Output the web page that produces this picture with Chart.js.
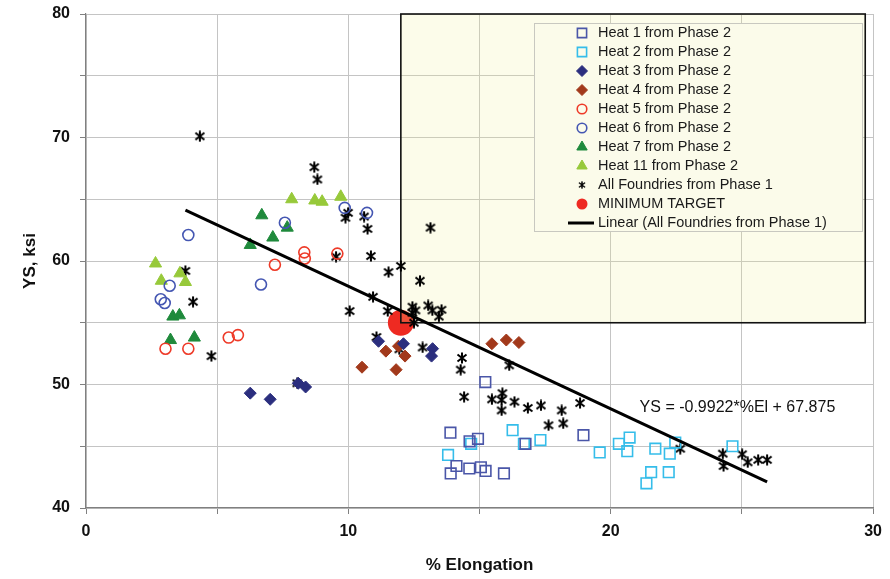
<!DOCTYPE html>
<html>
<head>
<meta charset="utf-8">
<script src="https://cdn.jsdelivr.net/npm/chart.js@4.4.1/dist/chart.umd.min.js"></script>
<style>
  html, body { margin: 0; padding: 0; background: #fff; }
</style>
</head>
<body>
<canvas id="ysChart" width="890" height="579"></canvas>
<script>
// [% elongation, YS ksi] pairs per heat
const heat1 = [[15.22,50.2],[13.89,46.1],[14.62,45.4],[14.94,45.6],[14.12,43.4],[13.9,42.8],[14.61,43.2],[15.05,43.3],[15.23,43.0],[15.93,42.8],[16.75,45.2],[18.96,45.9]];
const heat2 = [[13.8,44.3],[14.68,45.2],[16.26,46.3],[16.69,45.2],[17.32,45.5],[19.58,44.5],[20.31,45.2],[20.72,45.7],[20.63,44.6],[21.36,42.0],[21.54,42.9],[21.7,44.8],[22.21,42.9],[22.25,44.4],[22.46,45.3],[24.64,45.0]];
const heat3 = [[6.26,49.3],[7.02,48.8],[8.09,50.1],[8.37,49.8],[11.15,53.5],[12.1,53.3],[13.21,52.9],[13.17,52.3]];
const heat4 = [[10.52,51.4],[11.43,52.7],[11.91,53.1],[11.82,51.2],[12.16,52.3],[15.47,53.3],[16.02,53.6],[16.5,53.4]];
const heat5 = [[3.03,52.9],[3.9,52.9],[5.44,53.8],[5.79,54.0],[7.2,59.7],[8.32,60.7],[8.34,60.2],[9.58,60.6]];
const heat6 = [[2.85,56.9],[3.0,56.6],[3.19,58.0],[3.9,62.1],[6.67,58.1],[7.58,63.1],[9.86,64.3],[10.71,63.9]];
const heat7 = [[3.22,53.6],[3.31,55.5],[3.56,55.6],[4.13,53.8],[6.26,61.3],[6.7,63.7],[7.12,61.9],[7.67,62.7]];
const heat11 = [[2.65,59.8],[2.87,58.4],[3.58,59.0],[3.79,58.3],[7.84,65.0],[8.72,64.9],[9.0,64.8],[9.71,65.2]];
const phase1 = [[4.34,70.1],[8.7,67.6],[8.82,66.6],[3.79,59.2],[4.08,56.7],[4.78,52.3],[8.05,50.1],[9.53,60.35],[9.99,63.9],[9.89,63.5],
  [10.6,63.6],[10.73,62.6],[10.86,60.4],[10.05,55.95],[10.94,57.1],[11.5,55.95],[11.53,59.1],[12.0,59.6],[12.73,58.4],[13.13,62.7],
  [12.44,56.3],[12.56,56.0],[12.44,55.8],[12.5,55.0],[13.04,56.4],[13.2,56.0],[13.55,56.05],[13.45,55.5],[11.07,53.85],[11.94,52.85],
  [12.83,53.0],[14.33,52.15],[14.28,51.2],[16.13,51.55],[14.41,49.0],[15.47,48.8],[15.87,49.3],[15.84,48.75],[15.84,47.9],[16.33,48.6],
  [16.84,48.1],[17.34,48.3],[18.13,47.9],[17.63,46.7],[18.19,46.85],[18.83,48.5],[22.65,44.8],[24.27,44.4],[24.3,43.4],[25.01,44.35],
  [25.22,43.7],[25.62,43.9],[25.96,43.9]];
const minTarget = [[12, 55]];

// fitted line for phase 1: YS = slope * %El + intercept
const slope = -0.9922;
const intercept = 67.875;
const targetBoxMaxX = 29.7;

const xs = phase1.map(p => p[0]);
const fitX = [Math.min(...xs), Math.max(...xs)];
const pts = a => a.map(([x, y]) => ({x, y}));

// Excel style star: an x with a vertical stroke
const starMark = (() => {
  const c = document.createElement('canvas');
  c.width = 12; c.height = 12;
  const g = c.getContext('2d');
  g.strokeStyle = '#000'; g.lineWidth = 2;
  g.beginPath();
  g.moveTo(1.5, 2.5); g.lineTo(10.5, 9.5);
  g.moveTo(10.5, 2.5); g.lineTo(1.5, 9.5);
  g.moveTo(6, 0.5); g.lineTo(6, 11.5);
  g.stroke();
  return c;
})();

const open = (label, data, color, style, r) => ({
  label, data: pts(data), pointStyle: style, pointRadius: r, pointBorderWidth: 1.6,
  borderColor: color, backgroundColor: 'rgba(0,0,0,0)', pointBackgroundColor: 'rgba(0,0,0,0)'
});
const solid = (label, data, color, style, r) => ({
  label, data: pts(data), pointStyle: style, pointRadius: r, pointBorderWidth: 1,
  borderColor: color, backgroundColor: color
});

const TARGET_INDEX = 9;
const datasets = [
  open('Heat 1 from Phase 2', heat1, '#4a56a8', 'rect', 7.5),
  open('Heat 2 from Phase 2', heat2, '#35bdea', 'rect', 7.5),
  solid('Heat 3 from Phase 2', heat3, '#2b2e7e', 'rectRot', 6),
  solid('Heat 4 from Phase 2', heat4, '#a2391b', 'rectRot', 6),
  open('Heat 5 from Phase 2', heat5, '#ee3a28', 'circle', 5.5),
  open('Heat 6 from Phase 2', heat6, '#4456b2', 'circle', 5.5),
  solid('Heat 7 from Phase 2', heat7, '#1f8a3c', 'triangle', 7),
  solid('Heat 11 from Phase 2', heat11, '#97c93a', 'triangle', 7),
  { label: 'All Foundries from Phase 1', data: pts(phase1), pointStyle: starMark, pointRadius: 5,
    borderColor: '#000', backgroundColor: '#000' },
  { label: 'MINIMUM TARGET', data: pts(minTarget), pointStyle: 'circle', pointRadius: 13,
    pointBorderWidth: 0, borderColor: '#ee2a22', backgroundColor: '#ee2a22' },
  { label: 'Linear (All Foundries from Phase 1)', data: fitX.map(x => ({x, y: slope * x + intercept})),
    showLine: true, pointRadius: 0, borderColor: '#000', borderWidth: 3, order: -1 }
];

const BOX_FILL = 'rgba(238,238,150,0.2)';

// shaded region above / right of the minimum target, drawn over the target marker
const targetBox = {
  id: 'targetBox',
  afterDatasetDraw(chart, args) {
    if (args.index !== TARGET_INDEX) return;
    const {ctx, scales: {x, y}} = chart;
    const l = x.getPixelForValue(minTarget[0][0]);
    const r = x.getPixelForValue(targetBoxMaxX);
    const t = y.getPixelForValue(y.max);
    const b = y.getPixelForValue(minTarget[0][1]);
    ctx.save();
    ctx.fillStyle = BOX_FILL;
    ctx.fillRect(l, t, r - l, b - t);
    ctx.strokeStyle = '#111';
    ctx.lineWidth = 1.6;
    ctx.strokeRect(l, t, r - l, b - t);
    ctx.restore();
  }
};

const equationLabel = {
  id: 'equationLabel',
  afterDatasetsDraw(chart) {
    const {ctx, scales: {x, y}} = chart;
    ctx.save();
    ctx.font = '16px "Liberation Sans", Arial, sans-serif';
    ctx.fillStyle = '#111';
    ctx.textBaseline = 'middle';
    ctx.fillText('YS = ' + slope + '*%El + ' + intercept, x.getPixelForValue(21.1), y.getPixelForValue(48.1));
    ctx.restore();
  }
};

// legend box sitting inside the plot area
const boxLegend = {
  id: 'boxLegend',
  afterDraw(chart) {
    const {ctx} = chart;
    const left = 534, top = 23, w = 328, h = 208, rowH = 19;
    ctx.save();
    ctx.fillStyle = '#fbfbea';
    ctx.fillRect(left, top, w, h);
    ctx.strokeStyle = '#c8c8c0';
    ctx.lineWidth = 1;
    ctx.strokeRect(left + 0.5, top + 0.5, w, h);
    ctx.font = '14.5px "Liberation Sans", Arial, sans-serif';
    ctx.textBaseline = 'middle';
    chart.data.datasets.forEach((ds, i) => {
      const cy = top + 10 + i * rowH;
      const mx = 582;
      if (ds.showLine) {
        ctx.strokeStyle = ds.borderColor;
        ctx.lineWidth = 3;
        ctx.beginPath();
        ctx.moveTo(568, cy); ctx.lineTo(594, cy);
        ctx.stroke();
      } else if (ds.pointStyle instanceof HTMLCanvasElement) {
        ctx.drawImage(ds.pointStyle, mx - 4, cy - 4, 8, 8);
      } else {
        const sizes = {rect: 6.5, rectRot: 5.5, circle: 4.8, triangle: 6};
        ctx.fillStyle = ds.backgroundColor;
        ctx.strokeStyle = ds.borderColor;
        ctx.lineWidth = ds.pointBorderWidth || 1;
        Chart.helpers.drawPoint(ctx, {
          pointStyle: ds.pointStyle,
          radius: ds.label === 'MINIMUM TARGET' ? 5.5 : sizes[ds.pointStyle],
          rotation: 0,
          borderWidth: ds.pointBorderWidth || 0
        }, mx, cy);
      }
      ctx.fillStyle = '#1a1a1a';
      ctx.fillText(ds.label, 598, cy);
    });
    ctx.restore();
  }
};

const tickFont = {family: '"Liberation Sans", Arial, sans-serif', size: 16, weight: 'bold'};
const titleFont = {family: '"Liberation Sans", Arial, sans-serif', size: 17, weight: 'bold'};
const tenths = v => (v % 10 === 0 ? v : '');

new Chart(document.querySelector('#ysChart'), {
  type: 'scatter',
  data: { datasets },
  options: {
    responsive: false,
    animation: false,
    devicePixelRatio: 1,
    layout: { padding: { top: 14, right: 14, left: 0, bottom: 0 } },
    plugins: { legend: { display: false }, tooltip: { enabled: false } },
    scales: {
      x: {
        min: 0, max: 30,
        ticks: { stepSize: 5, callback: tenths, font: tickFont, color: '#111', padding: 8, maxRotation: 0 },
        grid: { color: '#c4c4c4', tickColor: '#808080', tickLength: 6 },
        border: { color: '#808080', width: 1.2 },
        title: { display: true, text: '% Elongation', font: titleFont, color: '#111', padding: { top: 0, bottom: 3 } },
        afterFit: s => { s.height = 71; }
      },
      y: {
        min: 40, max: 80,
        ticks: { stepSize: 5, callback: tenths, font: tickFont, color: '#111', padding: 10 },
        grid: { color: '#c4c4c4', tickColor: '#808080', tickLength: 6 },
        border: { color: '#808080', width: 1.2 },
        title: { display: true, text: 'YS, ksi', font: titleFont, color: '#111', padding: { top: 20, bottom: 0 } },
        afterFit: s => { s.width = 86; s.paddingTop = 0; s.paddingBottom = 0; }
      }
    }
  },
  plugins: [targetBox, equationLabel, boxLegend]
});
</script>
</body>
</html>
